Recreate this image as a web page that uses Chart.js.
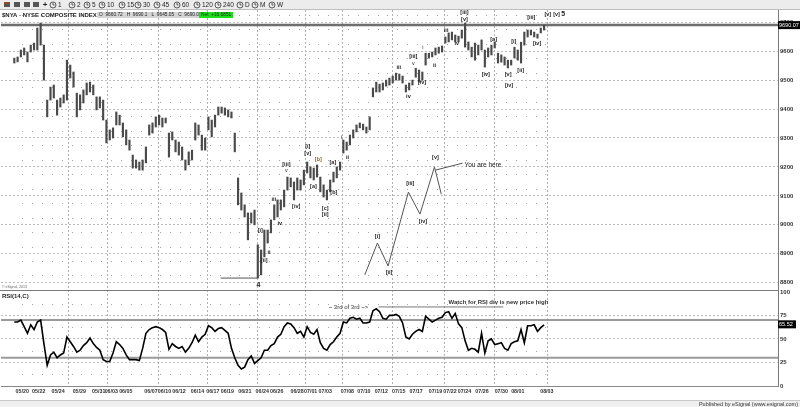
<!DOCTYPE html>
<html>
<head>
<meta charset="utf-8">
<script src="https://cdn.jsdelivr.net/npm/chart.js@4.4.0/dist/chart.umd.min.js"></script>
<style>
html, body { margin: 0; padding: 0; background: #fff; }
</style>
</head>
<body>
<canvas id="myChart" width="800" height="407"></canvas>
<script>
// $NYA 60 min, sampled every third of a session from just before 05/20

var barStart = -0.804;
var barStep = 1 / 3;

var barHigh = [9576,9580,9604,9611,9597,9621,9628,9680,9697,9621,
  9431,9476,9483,9431,9438,9449,9569,9552,9528,9455,
  9449,9466,9490,9493,9483,9442,9442,9431,9362,9328,
  9335,9390,9379,9352,9328,9293,9241,9224,9217,9224,
  9269,9345,9352,9373,9379,9369,9369,9317,9321,9293,
  9286,9269,9224,9252,9258,9352,9345,9310,9300,9373,
  9362,9379,9407,9407,9404,9397,9390,9317,9162,9110,
  9069,9041,9041,9051,8931,8913,8982,8982,9017,9069,
  9086,9086,9120,9165,9162,9148,9162,9155,9189,9217,
  9200,9196,9207,9165,9138,9120,9155,9182,9200,9217,
  9293,9286,9310,9328,9345,9352,9348,9338,9373,9473,
  9493,9486,9490,9500,9507,9514,9524,9521,9514,9483,
  9490,9500,9541,9535,9528,9593,9593,9597,9611,9614,
  9618,9649,9663,9666,9656,9652,9673,9697,9632,9614,
  9628,9621,9639,9604,9611,9621,9632,9593,9587,9580,
  9569,9569,9614,9604,9631,9666,9673,9673,9666,9659,
  9680,9690];

var barLow = [9559,9563,9580,9587,9563,9597,9604,9604,9621,9500,
  9373,9431,9438,9379,9407,9421,9431,9507,9476,9373,
  9397,9421,9449,9459,9449,9397,9404,9362,9283,9293,
  9300,9345,9345,9304,9276,9258,9196,9196,9189,9189,
  9214,9310,9317,9338,9345,9338,9352,9234,9293,9252,
  9241,9224,9189,9207,9224,9293,9310,9258,9258,9328,
  9304,9338,9379,9386,9379,9373,9369,9252,9069,9051,
  9027,8948,9006,9000,8816,8827,8889,8937,8972,9017,
  9027,9051,9062,9120,9131,9086,9120,9120,9138,9179,
  9162,9155,9165,9114,9096,9086,9114,9148,9162,9189,
  9248,9258,9276,9300,9321,9335,9328,9317,9328,9442,
  9459,9459,9466,9479,9483,9490,9500,9500,9490,9459,
  9466,9483,9510,9493,9500,9552,9576,9580,9587,9593,
  9597,9628,9632,9639,9632,9632,9645,9614,9604,9580,
  9569,9587,9604,9545,9580,9587,9611,9559,9562,9552,
  9542,9552,9576,9569,9559,9621,9649,9656,9649,9645,
  9663,9673];

var rsiValues = [68,68,70,63,56,65,60,68,70,45,
  22,33,36,30,33,35,52,47,42,36,
  38,43,46,51,45,41,38,28,26,26,
  35,47,44,40,33,28,28,28,27,40,
  56,60,62,63,62,60,57,39,45,42,
  40,42,36,40,46,54,47,52,55,64,
  62,58,61,62,59,56,40,30,22,18,
  20,28,32,24,27,30,38,38,43,45,
  52,55,63,67,66,62,56,58,52,63,
  57,55,60,46,40,38,44,47,52,56,
  68,67,72,73,71,72,67,67,68,80,
  82,79,72,71,75,75,76,74,67,52,
  50,55,58,60,58,74,71,68,70,72,
  73,78,79,72,77,66,62,48,38,40,
  39,36,56,35,48,50,44,45,46,40,
  38,45,47,48,60,46,64,64,65,58,
  62,65];

var lastClose = 9690.07;
var lastRsi = 65.52;

var priceTicks = [8800,8850,8900,8950,9000,9050,9100,9150,9200,9250,9300,9350,9400,9450,9500,9550,9600,9650,9700];
var rsiTicks = [0, 25, 50, 75, 100];

var dateLabels = ['05/20','05/22','05/24','05/29','05/31','06/03','06/05','06/07','06/10','06/12','06/14','06/17','06/19','06/21','06/24','06/26','06/28','07/01','07/03','07/08','07/10','07/12','07/15','07/17','07/19','07/22','07/24','07/26','07/30','08/01','08/03'];
var dateDays = [0,1.67,3.63,5.78,7.75,9.02,10.49,13.04,14.41,15.88,17.75,19.31,20.78,22.55,24.31,25.78,27.84,29.22,30.69,32.94,34.61,36.37,38.14,39.9,41.86,43.33,44.8,46.57,48.53,50.2,53.14];
var weekDays = [4.6,8.63,13.8,18.7,23.8,28.6,32.35,37.5,42.7,47.8,53.2];

// wave count labels
var waveText  = ['[iii]','v','iii','iv','[iv]','[i]','[ii]','ii','[i]','[v]','[b]','[a]','[c]','[ii]','[b]','[a]','i','ii',
                 'iii','[iii]','v','iv','[iv]','i','ii','iii','iv','[iii]','[v]','[iv]','[a]','[v]','[iv]','[i]','[ii]','[iii]','[iv]','[v]','[v]','5','4'];
var waveDay   = [26.76,26.76,25.49,26.08,27.75,24.12,24.51,25.0,28.92,28.92,30.0,29.5,30.69,30.69,31.57,31.47,32.35,32.94,
                 38.14,39.61,39.61,39.12,40.49,40.59,41.76,42.94,44.02,44.8,44.8,46.96,47.75,49.22,49.31,49.8,50.49,51.57,52.16,53.24,54.12,54.8,23.92];
var wavePrice = [9210,9189,9089,9006,9065,8982,8875,8906,9272,9245,9227,9134,9058,9034,9110,9214,9303,9234,
                 9545,9580,9559,9445,9493,9614,9549,9673,9628,9732,9711,9521,9639,9518,9480,9632,9535,9718,9625,9728,9728,9728,8792];

// projected path
var projDay   = [34.7,35.98,37.06,39.12,40.29,41.76,42.45];
var projPrice = [8827,8937,8858,9113,9037,9200,9106];
var projText  = ['[i]','[ii]','[iii]','[iv]','[v]'];
var projTextDay   = [35.98,37.16,39.31,40.59,41.86];
var projTextPrice = [8961,8834,9144,9013,9234];

var lowLineDay = [20.1, 23.82];
var lowLinePrice = 8816;

var FONT = '"Liberation Sans", Arial, sans-serif';

var barData = barHigh.map(function (h, i) {
  return { x: barStart + i * barStep, y: [barLow[i], h] };
});
var rsiData = rsiValues.map(function (v, i) {
  return { x: barStart + i * barStep, y: v };
});
var projData = projDay.map(function (d, i) {
  return { x: d, y: projPrice[i] };
});
var lowLineData = lowLineDay.map(function (d) {
  return { x: d, y: lowLinePrice };
});
var pointerData = [{ x: 41.86, y: 9189 }, { x: 44.61, y: 9213 }];
var rsiNoteLine = [{ x: 36.08, y: 84 }, { x: 48.73, y: 84 }];

function text(c, s, x, y, size, color, align, weight) {
  c.font = (weight || 'normal') + ' ' + size + 'px ' + FONT;
  c.fillStyle = color;
  c.textAlign = align || 'left';
  c.textBaseline = 'middle';
  c.fillText(s, x, y);
}

var decor = {
  id: 'decor',
  beforeDraw: function (chart) {
    var c = chart.ctx;
    c.save();
    c.fillStyle = '#fff';
    c.fillRect(0, 0, 800, 407);
    // toolbar
    c.fillStyle = '#ececec';
    c.fillRect(0, 0, 800, 9);
    c.fillStyle = '#bdbdbd';
    c.fillRect(0, 9, 800, 1);
    var icons = [4, 14, 24, 33];
    c.fillStyle = '#555';
    icons.forEach(function (x) { c.fillRect(x, 2, 6, 5); });
    c.fillStyle = '#8b4a2b';
    c.fillRect(4, 2, 6, 2);
    text(c, '+', 45, 5, 8, '#222', 'center', 'bold');
    var clocks = [53, 72, 87, 102, 122, 138, 157, 177, 197, 218, 240, 255, 272];
    var periods = ['1', '2', '5', '10', '15', '30', '45', '60', '120', '240', 'D', 'M', 'W'];
    clocks.forEach(function (x, i) {
      c.strokeStyle = '#333';
      c.lineWidth = 0.8;
      c.beginPath();
      c.arc(x, 5, 3, 0, Math.PI * 2);
      c.stroke();
      c.beginPath();
      c.moveTo(x, 5); c.lineTo(x, 3); c.moveTo(x, 5); c.lineTo(x + 1.5, 5);
      c.stroke();
      text(c, periods[i], x + 5, 5, 6.5, '#222', 'left');
    });
    // bottom strip
    c.fillStyle = '#efefef';
    c.fillRect(0, 400, 800, 7);
    c.fillStyle = '#c8c8c8';
    c.fillRect(0, 400, 800, 1);
    text(c, 'Published by eSignal (www.esignal.com)', 798, 404, 5.5, '#333', 'right');
    c.restore();
  },
  beforeDatasetsDraw: function (chart) {
    var c = chart.ctx, x = chart.scales.x, y = chart.scales.y, r = chart.scales.rsi;
    var a = chart.chartArea;
    c.save();
    // dotted day grid
    c.fillStyle = '#a8a8a8';
    for (var d = 0; d <= 53; d++) {
      var px = Math.round(x.getPixelForValue(d));
      for (var p = 8825; p < 9740; p += 50) c.fillRect(px, Math.round(y.getPixelForValue(p)), 1, 1);
      [12.5, 37.5, 62.5, 87.5].forEach(function (v) { c.fillRect(px, Math.round(r.getPixelForValue(v)), 1, 1); });
    }
    // weekly separators
    c.strokeStyle = '#b0b0b0';
    c.lineWidth = 1;
    c.setLineDash([2, 2]);
    weekDays.forEach(function (d) {
      var px = Math.round(x.getPixelForValue(d)) + 0.5;
      c.beginPath();
      c.moveTo(px, a.top);
      c.lineTo(px, a.bottom);
      c.stroke();
    });
    c.setLineDash([]);
    // rsi 70 / 30 levels
    c.strokeStyle = '#9a9a9a';
    c.lineWidth = 2;
    [70, 30].forEach(function (v) {
      var py = r.getPixelForValue(v);
      c.beginPath();
      c.moveTo(a.left, py);
      c.lineTo(a.right, py);
      c.stroke();
    });
    // last price line
    c.strokeStyle = '#6e6e6e';
    c.lineWidth = 2.5;
    var ly = y.getPixelForValue(lastClose);
    c.beginPath();
    c.moveTo(a.left, ly);
    c.lineTo(a.right, ly);
    c.stroke();
    // panel frame
    c.strokeStyle = '#7a7a7a';
    c.lineWidth = 1;
    c.beginPath();
    c.moveTo(0, Math.round(y.bottom) + 0.5);
    c.lineTo(a.right, Math.round(y.bottom) + 0.5);
    c.moveTo(Math.round(a.right) + 0.5, a.top);
    c.lineTo(Math.round(a.right) + 0.5, a.bottom);
    c.stroke();
    c.restore();
  },
  afterDatasetsDraw: function (chart) {
    var c = chart.ctx, x = chart.scales.x, y = chart.scales.y, r = chart.scales.rsi;
    c.save();
    // header
    text(c, '$NYA - NYSE COMPOSITE INDEX,60', 2, 15, 6, '#222', 'left', 'bold');
    c.fillStyle = '#d4d4d4';
    c.fillRect(97, 12, 102, 6);
    text(c, 'O  9660.72   H  9690.1   L  9645.05   C  9690.07', 99, 15, 4.8, '#222', 'left');
    c.fillStyle = '#19e019';
    c.fillRect(199, 12, 34, 6);
    text(c, 'Net  +16.6851', 201, 15, 4.8, '#222', 'left');
    // wave labels
    waveText.forEach(function (s, i) {
      var col = (s === '[b]' && i === 10) ? '#9a6630' : '#222';
      var size = (s === '4' || s === '5') ? 7 : 5.5;
      text(c, s, x.getPixelForValue(waveDay[i]), y.getPixelForValue(wavePrice[i]), size, col, 'center', s.length > 1 || size > 6 ? 'bold' : 'normal');
    });
    projText.forEach(function (s, i) {
      text(c, s, x.getPixelForValue(projTextDay[i]), y.getPixelForValue(projTextPrice[i]), 5.5, '#222', 'center', 'bold');
    });
    text(c, 'You are here', x.getPixelForValue(44.8), y.getPixelForValue(9207), 6.5, '#222', 'left');
    // rsi notes
    text(c, 'RSI(14,C)', 2, 296, 6, '#222', 'left', 'bold');
    text(c, '\u00a9 eSignal, 2013', 2, 287, 3.5, '#666', 'left');
    text(c, '~ 3rd of 3rd ~>', x.getPixelForValue(33.04), r.getPixelForValue(84), 6, '#333', 'center');
    text(c, 'Watch for RSI div is new price high', x.getPixelForValue(48.24), r.getPixelForValue(89.4), 6, '#333', 'center', 'bold');
    c.restore();
  },
  afterDraw: function (chart) {
    var c = chart.ctx, y = chart.scales.y, r = chart.scales.rsi;
    var a = chart.chartArea;
    c.save();
    var py = y.getPixelForValue(lastClose);
    c.fillStyle = '#000';
    c.fillRect(a.right, py - 4, 22, 8);
    text(c, lastClose.toFixed(2), a.right + 1, py, 5.5, '#fff', 'left');
    var ry = r.getPixelForValue(lastRsi);
    c.fillStyle = '#000';
    c.fillRect(a.right, ry - 4, 18, 8);
    text(c, lastRsi.toFixed(2), a.right + 1, ry, 5.5, '#fff', 'left');
    c.restore();
  }
};

var dateFont = { family: FONT, size: 5.3, weight: 'bold' };
var axisFont = { family: FONT, size: 6, weight: 'bold' };

var ctx = document.getElementById('myChart').getContext('2d');
var myChart = new Chart(ctx,
{
    type: 'bar',
    data:
    {
        datasets:
        [
            {
                type: 'bar',
                label: '$NYA',
                data: barData,
                xAxisID: 'x',
                yAxisID: 'y',
                backgroundColor: '#4a4a4a',
                barThickness: 1.5,
                grouped: false
            },
            {
                type: 'line',
                label: 'RSI(14,C)',
                data: rsiData,
                yAxisID: 'rsi',
                borderColor: '#000',
                borderWidth: 1.6,
                pointRadius: 0,
                tension: 0
            },
            {
                type: 'line',
                label: 'projection',
                data: projData,
                yAxisID: 'y',
                borderColor: '#555',
                borderWidth: 1,
                pointRadius: 0
            },
            {
                type: 'line',
                label: 'pointer',
                data: pointerData,
                yAxisID: 'y',
                borderColor: '#555',
                borderWidth: 1,
                pointRadius: 0
            },
            {
                type: 'line',
                label: 'low',
                data: lowLineData,
                yAxisID: 'y',
                borderColor: '#555',
                borderWidth: 1,
                pointRadius: 0
            },
            {
                type: 'line',
                label: 'rsi note',
                data: rsiNoteLine,
                yAxisID: 'rsi',
                borderColor: '#777',
                borderWidth: 1,
                pointRadius: 0
            }
        ]
    },
    options:
    {
        responsive: false,
        animation: false,
        events: [],
        layout: { padding: { top: 10, left: 1, right: 0, bottom: 7 } },
        plugins: { legend: { display: false }, tooltip: { enabled: false } },
        scales:
        {
            x:
            {
                type: 'linear',
                min: -0.882,
                max: 75.29,
                afterFit: function (s) { s.height = 14; },
                afterBuildTicks: function (s) { s.ticks = dateDays.map(function (d) { return { value: d }; }); },
                ticks:
                {
                    autoSkip: false,
                    maxRotation: 0,
                    padding: 2,
                    font: dateFont,
                    color: '#333',
                    callback: function (v, i) { return dateLabels[i]; }
                },
                grid: { display: false, drawTicks: false },
                border: { display: true, color: '#888' }
            },
            y:
            {
                type: 'linear',
                position: 'right',
                stack: 'panes',
                stackWeight: 280,
                min: 8774.7,
                max: 9742.3,
                afterFit: function (s) { s.width = 22; },
                afterBuildTicks: function (s) { s.ticks = priceTicks.map(function (v) { return { value: v }; }); },
                ticks: { padding: 2, font: axisFont, color: '#333', callback: function (v) { return String(v); } },
                grid: { color: '#bdbdbd', drawTicks: false },
                border: { display: false, dash: [2, 2] }
            },
            rsi:
            {
                type: 'linear',
                position: 'right',
                stack: 'panes',
                stackWeight: 96,
                min: 0,
                max: 102,
                afterFit: function (s) { s.width = 22; },
                afterBuildTicks: function (s) { s.ticks = rsiTicks.map(function (v) { return { value: v }; }); },
                ticks: { padding: 2, font: axisFont, color: '#333' },
                grid:
                {
                    drawTicks: false,
                    color: function (c) { return (c.tick && c.tick.value > 0 && c.tick.value < 100) ? '#bdbdbd' : 'rgba(0,0,0,0)'; }
                },
                border: { display: false, dash: [2, 2] }
            }
        }
    },
    plugins: [decor]
});
</script>
</body>
</html>
